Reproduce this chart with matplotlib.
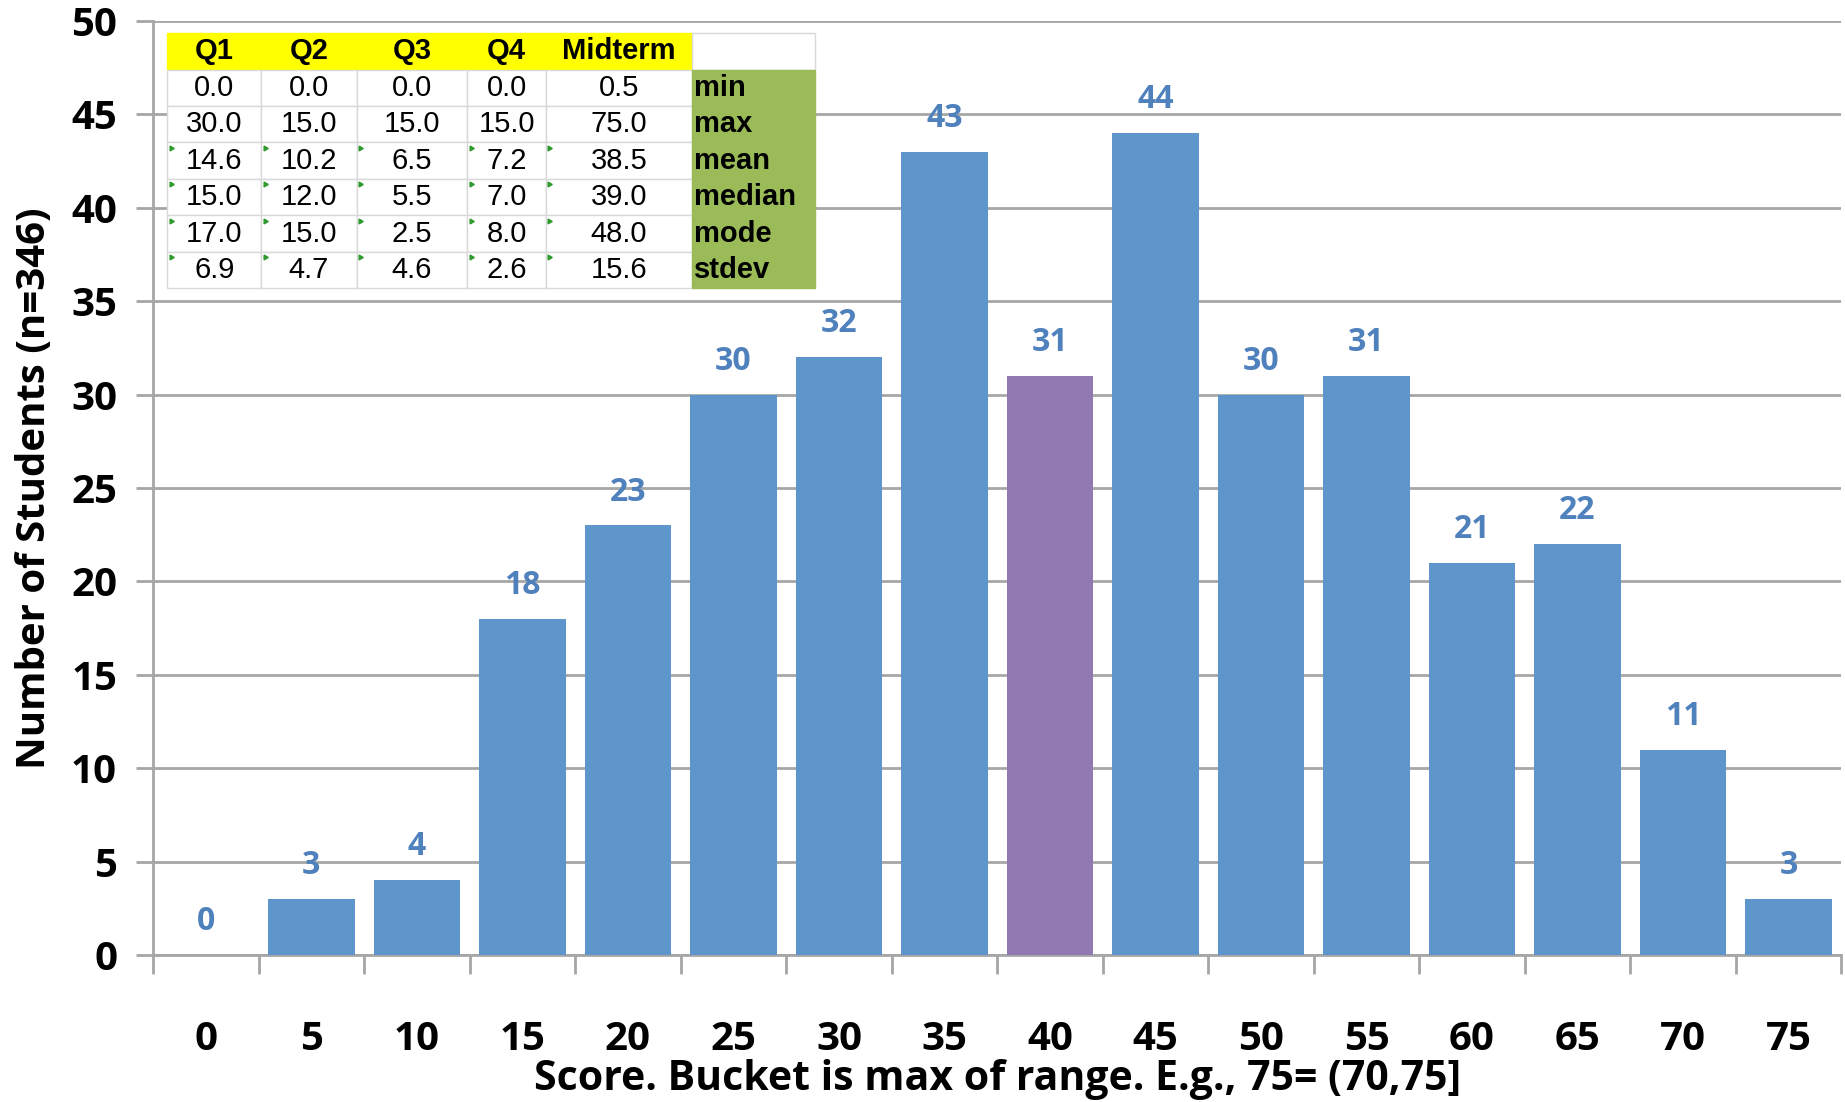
import matplotlib.pyplot as plt
import numpy as np

# score buckets and number of students in each
buckets = [0, 5, 10, 15, 20, 25, 30, 35, 40, 45, 50, 55, 60, 65, 70, 75]
counts = [0, 3, 4, 18, 23, 30, 32, 43, 31, 44, 30, 31, 21, 22, 11, 3]
highlight = 40

# summary stats table
col_names = ["Q1", "Q2", "Q3", "Q4", "Midterm"]
stat_names = ["min", "max", "mean", "median", "mode", "stdev"]
q1 = [0.0, 30.0, 14.6, 15.0, 17.0, 6.9]
q2 = [0.0, 15.0, 10.2, 12.0, 15.0, 4.7]
q3 = [0.0, 15.0, 6.5, 5.5, 2.5, 4.6]
q4 = [0.0, 15.0, 7.2, 7.0, 8.0, 2.6]
midterm = [0.5, 75.0, 38.5, 39.0, 48.0, 15.6]

blue = "#5e95cb"
purple = "#9179b2"
label_blue = "#4f81bd"
grid_gray = "#a6a6a6"
font = "Open Sans"

fig = plt.figure(figsize=(18.45, 11.02), dpi=100)
ax = fig.add_axes([0.083, 0.1334, 0.915, 0.8475])

x = np.arange(len(buckets))
colors = [purple if b == highlight else blue for b in buckets]
ax.bar(x, counts, width=0.82, color=colors, zorder=3)

for xi, c in zip(x, counts):
    ax.text(xi, c + 0.9, str(c), ha="center", va="bottom", color=label_blue,
            fontsize=23, fontweight="bold", family=font)

ax.set_xlim(-0.5, len(buckets) - 0.5)
ax.set_ylim(0, 50)
ax.set_yticks(range(0, 51, 5))
ax.yaxis.grid(True, color=grid_gray, linewidth=2, zorder=0)
ax.tick_params(axis="y", length=12, width=2, color=grid_gray, pad=14,
               labelsize=29)

# labels at bar centres, tick marks on the bucket boundaries
ax.set_xticks(x)
ax.set_xticklabels([str(b) for b in buckets])
ax.set_xticks(np.arange(-0.5, len(buckets), 1.0), minor=True)
ax.tick_params(axis="x", which="major", length=0, pad=47, labelsize=29)
ax.tick_params(axis="x", which="minor", length=14, width=2, color=grid_gray)

for lab in ax.get_yticklabels() + ax.get_xticklabels():
    lab.set_fontweight("bold")
    lab.set_family(font)

for s in ["top", "right"]:
    ax.spines[s].set_visible(False)
for s in ["left", "bottom"]:
    ax.spines[s].set_color(grid_gray)
    ax.spines[s].set_linewidth(2)

ax.set_ylabel("Number of Students (n=346)", fontsize=29, fontweight="bold",
              family=font, labelpad=12)
ax.set_xlabel("Score. Bucket is max of range. E.g., 75= (70,75]", fontsize=29.5,
              fontweight="bold", family=font, labelpad=0)

# stats table in the upper left corner
cells = [col_names + [""]]
for i, name in enumerate(stat_names):
    cells.append([f"{q1[i]:.1f}", f"{q2[i]:.1f}", f"{q3[i]:.1f}",
                  f"{q4[i]:.1f}", f"{midterm[i]:.1f}", name])

widths = np.array([80, 81, 94, 67, 124, 105], dtype=float)
widths = widths / widths.sum()
tb_x, tb_y, tb_w, tb_h = 0.0083, 0.714, 0.384, 0.273
tbl = ax.table(cellText=cells, colWidths=list(widths),
               bbox=[tb_x, tb_y, tb_w, tb_h], zorder=5)
tbl.auto_set_font_size(False)
for (r, c), cell in tbl.get_celld().items():
    cell.set_edgecolor("#d9d9d9")
    cell.set_linewidth(1)
    txt = cell.get_text()
    txt.set_fontsize(21)
    txt.set_family("Liberation Sans")
    cell.set_text_props(ha="center")
    if r == 0:
        txt.set_fontweight("bold")
        if c < 5:
            cell.set_facecolor("#ffff00")
            cell.set_edgecolor("#ffff00")
    elif c == 5:
        cell.set_facecolor("#9bbb59")
        cell.set_edgecolor("#9bbb59")
        txt.set_fontweight("bold")
        cell.set_text_props(ha="left")
        cell.PAD = 0.02

# little green corner flags on the computed rows
row_h = tb_h / len(cells)
col_left = tb_x + tb_w * np.concatenate([[0], np.cumsum(widths)[:-1]])
for r in range(3, len(cells)):
    top = tb_y + tb_h - r * row_h
    for c in range(5):
        ax.plot(col_left[c] + 0.002, top - 0.006, marker=(3, 0, 30),
                markersize=4, color="#2e9a2e", transform=ax.transAxes,
                zorder=6, clip_on=False)

fig.savefig("out.png", dpi=100)
